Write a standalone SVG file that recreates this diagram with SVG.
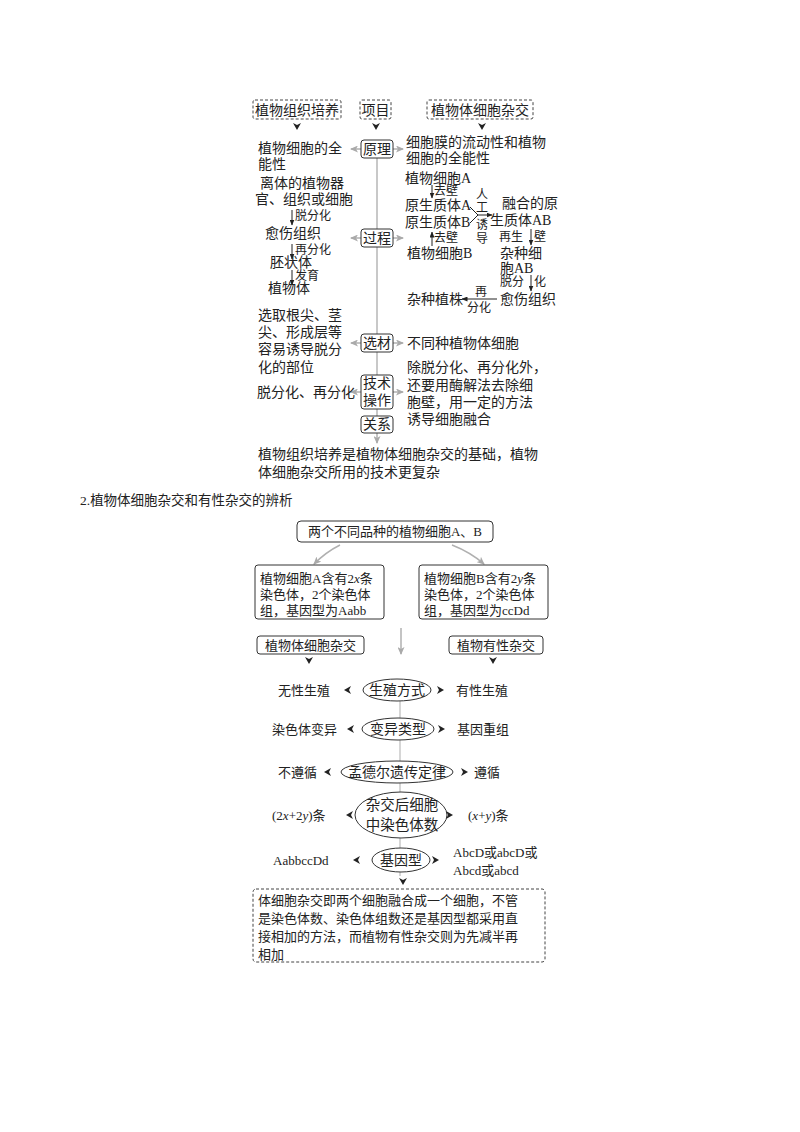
<svg xmlns="http://www.w3.org/2000/svg" xmlns:xlink="http://www.w3.org/1999/xlink" width="800" height="1132" viewBox="0 0 800 1132">
<style>
text{font-family:"Liberation Serif","Noto Sans CJK SC",serif;fill:#222}
.f14{font-size:14px}.f13{font-size:13px}.f12{font-size:12px}.f15{font-size:14.5px}
.c{text-anchor:middle}
.box{fill:#fff;stroke:#333;stroke-width:1}
.dbox{fill:#fff;stroke:#444;stroke-width:1;stroke-dasharray:3,2}
.ell{fill:#fff;stroke:#333;stroke-width:1}
.gl{stroke:#c8c8c8;stroke-width:2;fill:none}
.ga{stroke:#b0b0b0;stroke-width:1.5;fill:none;marker-end:url(#mg)}
.ba{stroke:#222;stroke-width:1;fill:none;marker-end:url(#mb)}
.blk{fill:#222}
.it{font-style:italic}
</style>
<defs>
<marker id="mg" markerUnits="userSpaceOnUse" markerWidth="8" markerHeight="7" refX="7" refY="3.5" orient="auto"><path d="M0,0 L8,3.5 L0,7 L2,3.5 Z" fill="#aaa"/></marker>
<marker id="mb" markerUnits="userSpaceOnUse" markerWidth="6" markerHeight="5" refX="5.5" refY="2.5" orient="auto"><path d="M0,0 L6,2.5 L0,5 Z" fill="#222"/></marker>
<path id="chevL" d="M0,0 L7,-4 L5,0 L7,4 Z"/>
<path id="chevR" d="M0,0 L-7,-4 L-5,0 L-7,4 Z"/>
<path id="chevD" d="M0,0 L-4,-7 L0,-5 L4,-7 Z"/>
</defs>
<rect width="800" height="1132" fill="#fff"/>

<g id="connectors">
<!-- top section -->
<line class="gl" x1="377" y1="158" x2="377" y2="416"/>
<use href="#chevD" class="blk" x="297" y="130"/>
<use href="#chevD" class="blk" x="376" y="130"/>
<use href="#chevD" class="blk" x="482" y="130"/>
<line class="ga" x1="361" y1="149" x2="351" y2="149"/>
<line class="ga" x1="393" y1="149" x2="403" y2="149"/>
<line class="ga" x1="361" y1="238" x2="351" y2="238"/>
<line class="ga" x1="393" y1="238" x2="403" y2="238"/>
<line class="ga" x1="361" y1="343" x2="351" y2="343"/>
<line class="ga" x1="393" y1="343" x2="403" y2="343"/>
<line class="ga" x1="361" y1="392" x2="351" y2="392"/>
<line class="ga" x1="393" y1="392" x2="403" y2="392"/>
<line class="ga" x1="377" y1="433" x2="377" y2="443"/>
<!-- left process arrows -->
<line class="ba" x1="292" y1="210" x2="292" y2="225"/>
<line class="ba" x1="292" y1="244" x2="292" y2="259"/>
<line class="ba" x1="292" y1="270" x2="292" y2="285"/>
<!-- right process arrows -->
<line class="ba" x1="432" y1="185" x2="432" y2="198"/>
<line class="ba" x1="432" y1="246" x2="432" y2="232"/>
<path d="M470,207 L478,215 L470,223" stroke="#222" stroke-width="1" fill="none"/>
<line class="ba" x1="478" y1="215" x2="492" y2="215"/>
<line class="ba" x1="531" y1="229" x2="531" y2="245"/>
<line class="ba" x1="531" y1="275" x2="531" y2="291"/>
<line class="ba" x1="497" y1="299" x2="462" y2="299"/>
<!-- bottom section -->
<path class="ga" d="M340,545 Q326,552 314,564"/>
<path class="ga" d="M452,545 Q470,552 484,564"/>
<line class="ga" x1="401" y1="628" x2="401" y2="654"/>
<use href="#chevD" class="blk" x="309" y="664"/>
<use href="#chevD" class="blk" x="493" y="664"/>
<line class="gl" x1="400" y1="700" x2="400" y2="876" style="stroke-width:1.5"/>
<use href="#chevL" class="blk" x="344" y="690"/>
<use href="#chevR" class="blk" x="444" y="690"/>
<use href="#chevL" class="blk" x="347" y="729"/>
<use href="#chevR" class="blk" x="445" y="729"/>
<use href="#chevL" class="blk" x="324" y="772"/>
<use href="#chevR" class="blk" x="468" y="772"/>
<use href="#chevL" class="blk" x="346" y="815"/>
<use href="#chevR" class="blk" x="453" y="815"/>
<use href="#chevL" class="blk" x="353" y="860"/>
<use href="#chevR" class="blk" x="439" y="860"/>
<use href="#chevD" class="blk" x="403" y="885"/>
</g>

<!-- TOP SECTION -->
<g id="hdr-tissue"><rect class="dbox" x="253" y="100" width="88" height="19" rx="2"/><text class="f14 c" x="297" y="115">植物组织培养</text></g>
<g id="hdr-item"><rect class="dbox" x="360" y="100" width="31" height="19" rx="2"/><text class="f14 c" x="375.5" y="115">项目</text></g>
<g id="hdr-fusion"><rect class="dbox" x="427" y="100" width="106" height="19" rx="2"/><text class="f14 c" x="480" y="115">植物体细胞杂交</text></g>

<g id="n-yuanli"><rect class="box" x="361" y="140" width="32" height="18" rx="3"/><text class="f14 c" x="377" y="154">原理</text></g>
<g id="n-guocheng"><rect class="box" x="361" y="229" width="32" height="18" rx="3"/><text class="f14 c" x="377" y="243">过程</text></g>
<g id="n-xuancai"><rect class="box" x="361" y="334" width="32" height="18" rx="3"/><text class="f14 c" x="377" y="348">选材</text></g>
<g id="n-jishu"><rect class="box" x="361" y="375" width="32" height="34" rx="3"/><text class="f14 c" x="377" y="388">技术</text><text class="f14 c" x="377" y="405">操作</text></g>
<g id="n-guanxi"><rect class="box" x="361" y="416" width="32" height="17" rx="3"/><text class="f14 c" x="377" y="429">关系</text></g>

<g id="t-yuanli-l"><text class="f14" x="258" y="153">植物细胞的全</text><text class="f14" x="258" y="169">能性</text></g>
<g id="t-yuanli-r"><text class="f14" x="406" y="147">细胞膜的流动性和植物</text><text class="f14" x="406" y="163">细胞的全能性</text></g>

<g id="t-guocheng-l">
<text class="f14" x="260" y="188">离体的植物器</text>
<text class="f14" x="255" y="204">官、组织或细胞</text>
<text class="f12" x="295" y="220">脱分化</text>
<text class="f14" x="265" y="238">愈伤组织</text>
<text class="f12" x="295" y="254">再分化</text>
<text class="f14" x="270" y="267">胚状体</text>
<text class="f12" x="295" y="280">发育</text>
<text class="f14" x="268" y="293">植物体</text>
</g>

<g id="t-guocheng-r">
<text class="f14" x="405" y="183">植物细胞A</text>
<text class="f12" x="434" y="195">去壁</text>
<text class="f14" x="405" y="210">原生质体A</text>
<text class="f14" x="405" y="227">原生质体B</text>
<text class="f12" x="434" y="242">去壁</text>
<text class="f14" x="407" y="258">植物细胞B</text>
<text class="f12" x="476" y="199">人</text>
<text class="f12" x="476" y="212">工</text>
<text class="f12" x="476" y="229">诱</text>
<text class="f12" x="476" y="243">导</text>
<text class="f14" x="502" y="208">融合的原</text>
<text class="f14" x="490" y="225">生质体AB</text>
<text class="f12" x="499" y="241">再生</text>
<text class="f12" x="534" y="241">壁</text>
<text class="f14" x="500" y="258">杂种细</text>
<text class="f14" x="500" y="273">胞AB</text>
<text class="f12" x="500" y="286">脱分</text>
<text class="f12" x="534" y="286">化</text>
<text class="f14" x="500" y="304">愈伤组织</text>
<text class="f14" x="407" y="304">杂种植株</text>
<text class="f12" x="475" y="296">再</text>
<text class="f12" x="467" y="312">分化</text>
</g>

<g id="t-xuancai-l">
<text class="f14" x="258" y="320">选取根尖、茎</text>
<text class="f14" x="258" y="337">尖、形成层等</text>
<text class="f14" x="258" y="354">容易诱导脱分</text>
<text class="f14" x="258" y="372">化的部位</text>
</g>
<g id="t-xuancai-r"><text class="f14" x="407" y="348">不同种植物体细胞</text></g>
<g id="t-jishu-l"><text class="f14" x="257" y="397">脱分化、再分化</text></g>
<g id="t-jishu-r">
<text class="f14" x="407" y="372">除脱分化、再分化外，</text>
<text class="f14" x="407" y="390">还要用酶解法去除细</text>
<text class="f14" x="407" y="407">胞壁，用一定的方法</text>
<text class="f14" x="407" y="424">诱导细胞融合</text>
</g>
<g id="t-guanxi">
<text class="f14" x="258" y="459">植物组织培养是植物体细胞杂交的基础，植物</text>
<text class="f14" x="258" y="477">体细胞杂交所用的技术更复杂</text>
</g>

<!-- BOTTOM SECTION -->
<g id="title2"><text class="f14" x="80" y="505" style="font-size:13.5px">2.植物体细胞杂交和有性杂交的辨析</text></g>

<g id="n-top"><rect class="box" x="297" y="521" width="196" height="21" rx="4"/><text class="f13 c" x="395" y="536">两个不同品种的植物细胞A、B</text></g>
<g id="n-cellA"><rect class="box" x="255" y="565" width="129" height="54" rx="3"/>
<text class="f13" x="260" y="583">植物细胞A含有2<tspan class="it">x</tspan>条</text>
<text class="f13" x="260" y="599">染色体，2个染色体</text>
<text class="f13" x="260" y="615">组，基因型为Aabb</text></g>
<g id="n-cellB"><rect class="box" x="419" y="565" width="129" height="54" rx="3"/>
<text class="f13" x="424" y="583">植物细胞B含有2<tspan class="it">y</tspan>条</text>
<text class="f13" x="424" y="599">染色体，2个染色体</text>
<text class="f13" x="424" y="615">组，基因型为ccDd</text></g>

<g id="n-somatic"><rect class="box" x="257" y="636" width="107" height="18" rx="3"/><text class="f13 c" x="310.5" y="650">植物体细胞杂交</text></g>
<g id="n-sexual"><rect class="box" x="449" y="636" width="94" height="18" rx="3"/><text class="f13 c" x="496" y="650">植物有性杂交</text></g>

<g id="n-row1"><ellipse class="ell" cx="397" cy="690" rx="34" ry="11"/><text class="f14 c" x="397" y="695">生殖方式</text>
<text class="f13" x="278" y="695">无性生殖</text><text class="f13" x="456" y="695">有性生殖</text></g>
<g id="n-row2"><ellipse class="ell" cx="398" cy="729" rx="36" ry="11"/><text class="f14 c" x="398" y="734">变异类型</text>
<text class="f13" x="272" y="734">染色体变异</text><text class="f13" x="457" y="734">基因重组</text></g>
<g id="n-row3"><ellipse class="ell" cx="397" cy="772" rx="56" ry="11"/><text class="f14 c" x="397" y="777">孟德尔遗传定律</text>
<text class="f13" x="278" y="777">不遵循</text><text class="f13" x="474" y="777">遵循</text></g>
<g id="n-row4"><ellipse class="ell" cx="401" cy="815" rx="46" ry="23"/>
<text class="f15 c" x="402" y="810">杂交后细胞</text><text class="f15 c" x="402" y="830">中染色体数</text>
<text class="f13" x="272" y="820">(2<tspan class="it">x</tspan>+2<tspan class="it">y</tspan>)条</text>
<text class="f13" x="468" y="820">(<tspan class="it">x</tspan>+<tspan class="it">y</tspan>)条</text></g>
<g id="n-row5"><ellipse class="ell" cx="401" cy="860" rx="29" ry="12"/><text class="f14 c" x="401" y="865">基因型</text>
<text class="f13" x="273" y="865">AabbccDd</text>
<text class="f13" x="453" y="857">AbcD或abcD或</text>
<text class="f13" x="453" y="875">Abcd或abcd</text></g>

<g id="n-summary"><rect class="dbox" x="253" y="889" width="292" height="73" rx="3"/>
<text class="f13" x="258" y="905">体细胞杂交即两个细胞融合成一个细胞，不管</text>
<text class="f13" x="258" y="923">是染色体数、染色体组数还是基因型都采用直</text>
<text class="f13" x="258" y="941">接相加的方法，而植物有性杂交则为先减半再</text>
<text class="f13" x="258" y="959">相加</text></g>
</svg>
